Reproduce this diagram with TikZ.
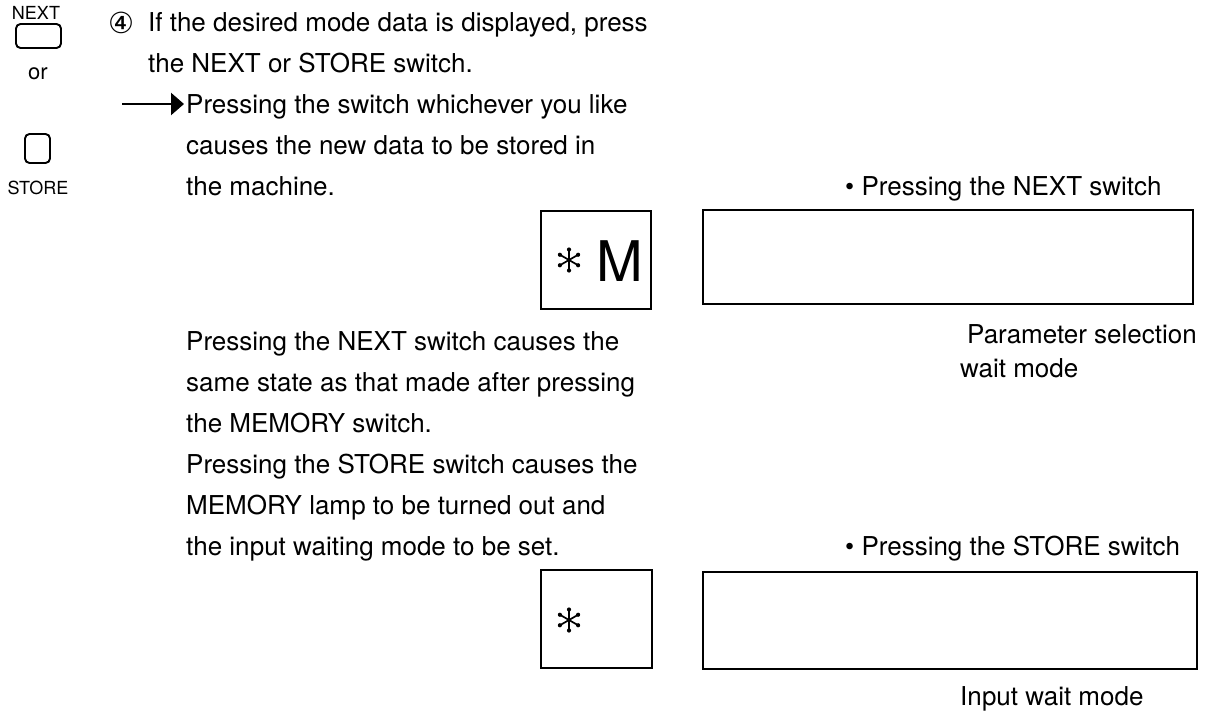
\documentclass[tikz,border=0pt]{standalone}
\usepackage{fontspec}
\setmainfont{TeX Gyre Heros}
\newfontfamily\symfont{DejaVu Sans}
\usetikzlibrary{arrows.meta}
\begin{document}
\begin{tikzpicture}[x=1pt,y=-1pt,
  body/.style={anchor=base west, inner sep=0pt, font=\fontsize{26}{41}\selectfont},
  keylabel/.style={anchor=base, inner sep=0pt, font=\fontsize{18}{20}\selectfont},
  keybox/.style={draw, line width=1.9pt, rounded corners=4.5pt},
  panel/.style={draw, line width=1.8pt},
  spoke/.style={line width=1.7pt, line cap=round}]
\useasboundingbox (0,0) rectangle (1213,715);

% six-armed star shown on the display
\newcommand{\displaystar}[1]{%
  \foreach \ang in {90,30,-30,-90,-150,150}{%
    \draw[spoke] (#1) -- ++(\ang:10.5pt);
    \fill (#1) ++(\ang:10.5pt) circle (2.1pt);
  }}

% switch keys on the left
\node[keylabel] (nextlbl) at (36,19) {NEXT};
\draw[keybox] (16,24) rectangle (61,48);
\node[keylabel, font=\fontsize{22}{26}\selectfont] (orlbl) at (38,79) {or};
\draw[keybox] (25,134) rectangle (50,163);
\node[keylabel] (storelbl) at (38,194) {STORE};

% step text
\node[body, font=\symfont\fontsize{29}{41}\selectfont] (num) at (108,33) {④};
\node[body] (l1) at (148,31) {If the desired mode data is displayed, press};
\node[body] (l2) at (148,72) {the NEXT or STORE switch.};
\coordinate (arrtail) at (122,104);
\coordinate (arrtip) at (184,104);
\draw[line width=2.4pt, -{Triangle[length=13pt,width=22pt]}] (arrtail) -- (arrtip);
\node[body] (l3) at (186,113) {Pressing the switch whichever you like};
\node[body] (l4) at (186,154) {causes the new data to be stored in};
\node[body] (l5) at (186,195) {the machine.};

% NEXT result
\node[body] (nexthead) at (845,195) {\textbullet\ Pressing the NEXT switch};
\draw[panel] (541,211) rectangle (651,309);
\coordinate (starA) at (569,260);
\displaystar{starA}
\node[inner sep=0pt, anchor=base, font=\fontsize{56}{56}\selectfont] (mchar) at (620,281) {M};
\draw[panel] (703,210) rectangle (1193,304);
\node[body, anchor=base east] (par1) at (1197,343) {Parameter selection};
\node[body] (par2) at (960,377) {wait mode};

% explanation text
\node[body] (m1) at (186,350) {Pressing the NEXT switch causes the};
\node[body] (m2) at (186,391) {same state as that made after pressing};
\node[body] (m3) at (186,432) {the MEMORY switch.};
\node[body] (m4) at (186,473) {Pressing the STORE switch causes the};
\node[body] (m5) at (186,514) {MEMORY lamp to be turned out and};
\node[body] (m6) at (186,555) {the input waiting mode to be set.};

% STORE result
\node[body] (storehead) at (845,555) {\textbullet\ Pressing the STORE switch};
\draw[panel] (541,570) rectangle (652,668);
\coordinate (starB) at (569,620);
\displaystar{starB}
\draw[panel] (703,572) rectangle (1197,669);
\node[body] (inwait) at (960,705) {Input wait mode};
\end{tikzpicture}
\end{document}
